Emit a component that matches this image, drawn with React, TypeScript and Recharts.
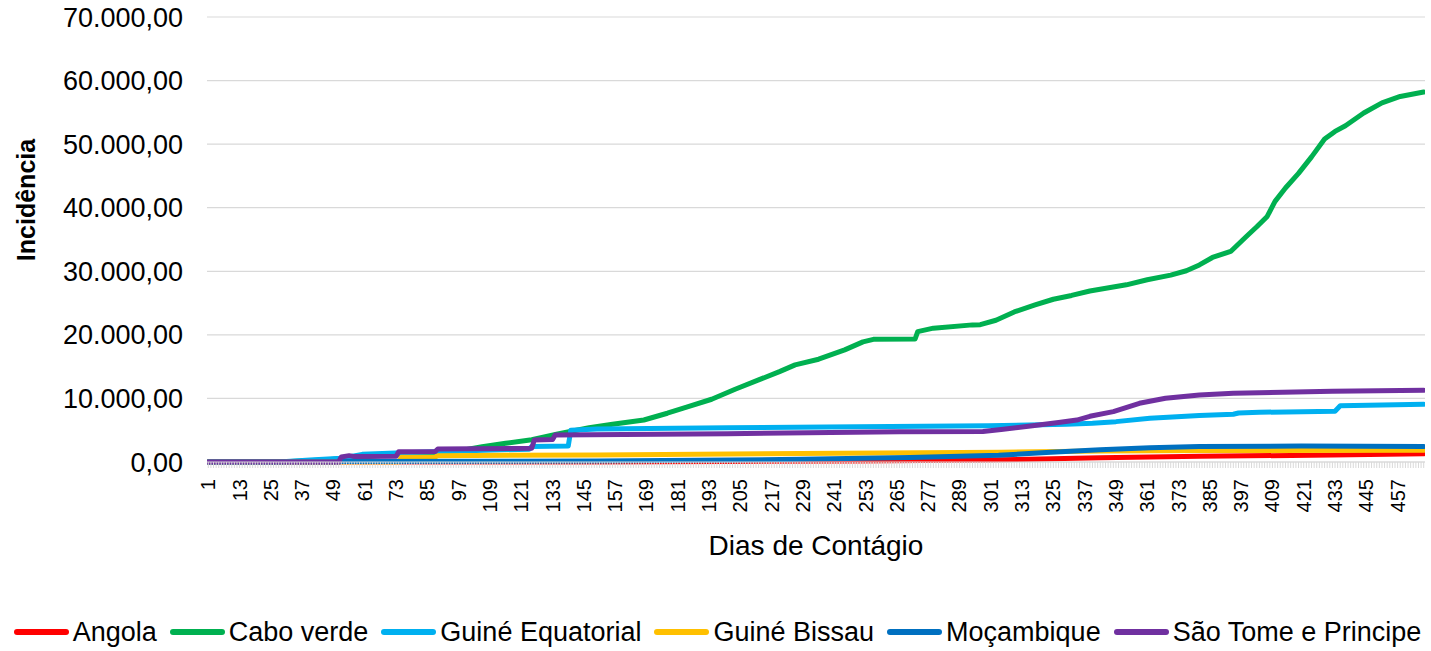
import React from 'react';
import { LineChart, Line, XAxis, YAxis, CartesianGrid, Legend } from 'recharts';

const FONT = '"Liberation Sans", Arial, Helvetica, sans-serif';

// x axis: days of contagion
const totalDays = 467;
const xTickLabels = [1, 13, 25, 37, 49, 61, 73, 85, 97, 109, 121, 133, 145, 157, 169, 181, 193, 205, 217, 229, 241, 253, 265, 277, 289, 301, 313, 325, 337, 349, 361, 373, 385, 397, 409, 421, 433, 445, 457];
const yTicks = [0, 10000, 20000, 30000, 40000, 50000, 60000, 70000];

// series: [day, incidence]
const angola: [number, number][] = [
  [1, 0], [150, 0], [200, 80], [250, 150], [300, 300], [343, 680], [381, 890], [432, 1100], [467, 1300],
];
const caboVerde: [number, number][] = [
  [1, 0], [28, 0], [35, 120], [45, 300], [52, 500], [60, 800], [73, 1200], [88, 1500], [98, 1800], [106, 2400],
  [115, 2940], [125, 3500], [135, 4400], [147, 5400], [156, 5930], [168, 6610], [177, 7670], [185, 8710],
  [194, 9870], [203, 11450], [212, 12910], [220, 14220], [226, 15280], [235, 16170], [245, 17640], [252, 18900],
  [256, 19300], [272, 19350], [273, 20500], [279, 21050], [294, 21570], [297, 21600], [303, 22300], [310, 23600],
  [318, 24700], [325, 25600], [332, 26200], [339, 26900], [353, 27870], [361, 28660], [370, 29400], [376, 30080],
  [381, 31000], [386, 32170], [393, 33120], [399, 35480], [403, 37000], [407, 38630], [410, 41000], [414, 43100],
  [419, 45400], [424, 48000], [429, 50800], [433, 52000], [437, 52900], [444, 54900], [451, 56500], [458, 57500],
  [467, 58200],
];
const guineEquatorial: [number, number][] = [
  [1, 0], [28, 0], [40, 300], [52, 600], [60, 1200], [73, 1400], [88, 1600], [110, 1900], [124, 2000], [125, 2450],
  [139, 2500], [140, 5000], [150, 5200], [200, 5400], [250, 5550], [300, 5700], [330, 5930], [340, 6100],
  [349, 6350], [362, 6880], [381, 7300], [394, 7510], [396, 7700], [404, 7820], [433, 8000], [435, 8850], [467, 9080],
];
const guineBissau: [number, number][] = [
  [1, 0], [74, 0], [75, 750], [88, 800], [89, 1000], [150, 1100], [228, 1350], [305, 1550], [343, 1730],
  [381, 1800], [467, 1850],
];
const mocambique: [number, number][] = [
  [1, 0], [51, 0], [52, 60], [150, 160], [228, 420], [270, 700], [304, 1050], [324, 1520], [343, 1940],
  [362, 2260], [381, 2420], [420, 2500], [467, 2450],
];
const saoTome: [number, number][] = [
  [1, 0], [51, 0], [52, 800], [55, 1000], [57, 850], [73, 900], [74, 1600], [88, 1650], [89, 2050], [125, 2150],
  [126, 3450], [133, 3550], [134, 4250], [200, 4450], [266, 4750], [298, 4800], [305, 5100], [317, 5700],
  [327, 6200], [334, 6600], [339, 7190], [348, 7930], [358, 9240], [368, 10030], [381, 10550], [394, 10810],
  [413, 10970], [432, 11130], [467, 11290],
];

const seriesNames = ['Angola', 'Cabo verde', 'Guiné Equatorial', 'Guiné Bissau', 'Moçambique', 'São Tome e Principe'];
const seriesColors = ['#FF0000', '#00B050', '#00B0F0', '#FFC000', '#0070C0', '#7030A0'];
const seriesPoints = [angola, caboVerde, guineEquatorial, guineBissau, mocambique, saoTome];

const allDays = Array.from({ length: totalDays }, (_, i) => i + 1);
const toData = (pts: [number, number][]) => pts.map(([day, value]) => ({ day, value }));

const fmt = (v: number) => Math.round(v).toString().replace(/\B(?=(\d{3})+(?!\d))/g, '.') + ',00';

const XTick = (props: any) => {
  const { x, y, payload } = props;
  if (!xTickLabels.includes(payload.value)) return null;
  const ax = x + 7;
  const ay = y + 9;
  return (
    <text x={ax} y={ay} transform={`rotate(-90, ${ax}, ${ay})`} textAnchor="end" fontSize={20} fill="#000" fontFamily={FONT}>
      {payload.value}
    </text>
  );
};

const renderLegend = () => (
  <div style={{ height: 69, display: 'flex', alignItems: 'flex-end', justifyContent: 'center', paddingBottom: 4, paddingLeft: 10, boxSizing: 'border-box', fontFamily: FONT, fontSize: 27, color: '#000' }}>
    {seriesNames.map((n, i) => (
      <div key={n} style={{ display: 'flex', alignItems: 'center', marginRight: i < seriesNames.length - 1 ? 13 : 0, height: 30 }}>
        <svg width={55} height={10} style={{ marginRight: 4 }}>
          <line x1={3} y1={5} x2={52} y2={5} stroke={seriesColors[i]} strokeWidth={6} strokeLinecap="round" />
        </svg>
        <span style={{ lineHeight: '30px', whiteSpace: 'nowrap' }}>{n}</span>
      </div>
    ))}
  </div>
);

export default function App() {
  return (
    <div style={{ position: 'absolute', left: 0, top: 0, width: 1431, height: 651, background: '#fff' }}>
      <LineChart width={1431} height={651} margin={{ top: 17, right: 6, bottom: 0, left: 0 }}>
        <CartesianGrid vertical={false} stroke="#d9d9d9" strokeWidth={1.2} />
        <XAxis
          dataKey="day"
          type="number"
          domain={[0.5, totalDays + 0.5]}
          ticks={allDays}
          interval={0}
          height={120}
          axisLine={{ stroke: '#d9d9d9', strokeWidth: 1.2 }}
          tickLine={{ stroke: '#d9d9d9' }}
          tickSize={6}
          tick={<XTick />}
          allowDataOverflow
        />
        <YAxis
          type="number"
          domain={[0, 70000]}
          ticks={yTicks}
          width={207}
          axisLine={false}
          tickLine={false}
          tickMargin={18}
          tickFormatter={fmt}
          tick={{ fontSize: 27, fill: '#000', fontFamily: FONT }}
        />
        <Legend verticalAlign="bottom" height={69} content={renderLegend} />
        {seriesPoints.map((pts, i) => (
          <Line
            key={seriesNames[i]}
            data={toData(pts)}
            dataKey="value"
            name={seriesNames[i]}
            type="linear"
            stroke={seriesColors[i]}
            strokeWidth={5}
            strokeLinecap="round"
            strokeLinejoin="round"
            dot={false}
            activeDot={false}
            isAnimationActive={false}
          />
        ))}
        <text x={26} y={200} transform="rotate(-90, 26, 200)" textAnchor="middle" dominantBaseline="central" fontSize={25} fontWeight="bold" fill="#000" fontFamily={FONT}>
          Incidência
        </text>
        <text x={816} y={555} textAnchor="middle" fontSize={28} fill="#000" fontFamily={FONT}>
          Dias de Contágio
        </text>
      </LineChart>
    </div>
  );
}
